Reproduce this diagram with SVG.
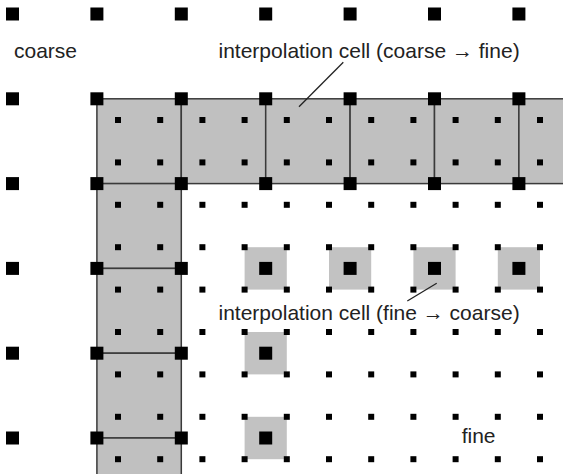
<svg xmlns="http://www.w3.org/2000/svg" xmlns:xlink="http://www.w3.org/1999/xlink" width="563" height="474" viewBox="0 0 563 474">
<style>
.cell{fill:#c0c0c0;stroke:#3a3a3a;stroke-width:1.5}
.fc{fill:#c2c2c2;stroke:none}
.lbl{font-family:"Liberation Sans",Arial,Helvetica,sans-serif;font-size:21px;fill:#222}
.lead{stroke:#222;stroke-width:1.3;fill:none}
</style>
<defs>
<rect id="f" x="-3" y="-3" width="6" height="6" fill="#000"/>
<rect id="c" x="-6.5" y="-6.5" width="13" height="13" fill="#000"/>
<g id="fine-row">
<use href="#f" x="118"/><use href="#f" x="160.2"/><use href="#f" x="202.4"/><use href="#f" x="244.6"/><use href="#f" x="286.8"/><use href="#f" x="329"/><use href="#f" x="371.2"/><use href="#f" x="413.4"/><use href="#f" x="455.6"/><use href="#f" x="497.8"/><use href="#f" x="540"/>
</g>
<g id="coarse-row">
<use href="#c" x="12.5"/><use href="#c" x="96.9"/><use href="#c" x="181.3"/><use href="#c" x="265.7"/><use href="#c" x="350.1"/><use href="#c" x="434.5"/><use href="#c" x="518.9"/>
</g>
</defs>
<rect width="563" height="474" fill="#fff"/>
<g id="cells-coarse-to-fine">
<rect class="cell" x="96.9" y="98.8" width="84.4" height="84.8"/>
<rect class="cell" x="181.3" y="98.8" width="84.4" height="84.8"/>
<rect class="cell" x="265.7" y="98.8" width="84.4" height="84.8"/>
<rect class="cell" x="350.1" y="98.8" width="84.4" height="84.8"/>
<rect class="cell" x="434.5" y="98.8" width="84.4" height="84.8"/>
<rect class="cell" x="518.9" y="98.8" width="60" height="84.8"/>
<rect class="cell" x="96.9" y="183.6" width="84.4" height="84.8"/>
<rect class="cell" x="96.9" y="268.4" width="84.4" height="84.8"/>
<rect class="cell" x="96.9" y="353.2" width="84.4" height="84.8"/>
<rect class="cell" x="96.9" y="438" width="84.4" height="60"/>
</g>
<g id="cells-fine-to-coarse">
<rect class="fc" x="244.6" y="247.2" width="42.2" height="42.4"/>
<rect class="fc" x="329" y="247.2" width="42.2" height="42.4"/>
<rect class="fc" x="413.4" y="247.2" width="42.2" height="42.4"/>
<rect class="fc" x="497.8" y="247.2" width="42.2" height="42.4"/>
<rect class="fc" x="244.6" y="332" width="42.2" height="42.4"/>
<rect class="fc" x="244.6" y="416.8" width="42.2" height="42.4"/>
</g>
<g id="fine-points">
<use href="#fine-row" y="120"/>
<use href="#fine-row" y="162.4"/>
<use href="#fine-row" y="204.8"/>
<use href="#fine-row" y="247.2"/>
<use href="#fine-row" y="289.6"/>
<use href="#fine-row" y="332"/>
<use href="#fine-row" y="374.4"/>
<use href="#fine-row" y="416.8"/>
<use href="#fine-row" y="459.2"/>
</g>
<g id="coarse-points">
<use href="#coarse-row" y="14"/>
<use href="#coarse-row" y="98.8"/>
<use href="#coarse-row" y="183.6"/>
<use href="#coarse-row" y="268.4"/>
<use href="#c" x="12.5" y="353.2"/><use href="#c" x="96.9" y="353.2"/><use href="#c" x="181.3" y="353.2"/><use href="#c" x="265.7" y="353.2"/>
<use href="#c" x="12.5" y="438"/><use href="#c" x="96.9" y="438"/><use href="#c" x="181.3" y="438"/><use href="#c" x="265.7" y="438"/>
</g>
<g id="connectors">
<line class="lead" x1="343.3" y1="62.3" x2="299" y2="106.7"/>
<line class="lead" x1="436.7" y1="283.3" x2="407.3" y2="301"/>
</g>
<g id="labels">
<text class="lbl" x="14" y="58.3">coarse</text>
<text class="lbl" x="218.5" y="57.5">interpolation cell (coarse → fine)</text>
<text class="lbl" x="218.5" y="320">interpolation cell (fine → coarse)</text>
<text class="lbl" x="461.7" y="442.7">fine</text>
</g>
</svg>
